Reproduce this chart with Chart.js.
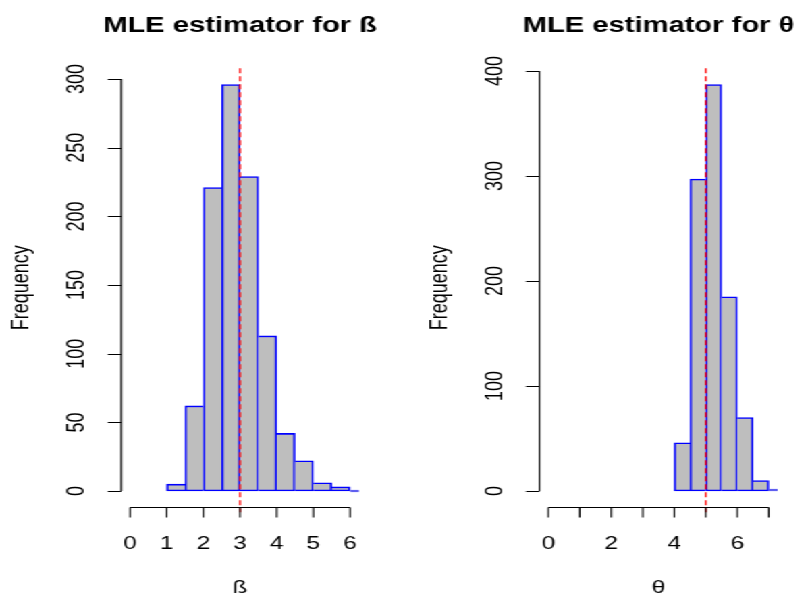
<!DOCTYPE html>
<html>
<head>
<meta charset="utf-8">
<script src="https://cdn.jsdelivr.net/npm/chart.js@4/dist/chart.umd.min.js"></script>
<style>
  html, body { margin: 0; padding: 0; background: #fff; overflow: hidden; }
  /* the reference is an R plot stretched sideways, so the charts are too */
  #wrap { position: absolute; left: 0; top: 0; width: 592px; height: 596px; transform: scaleX(1.35); transform-origin: 0 0; }
  canvas { position: absolute; top: 0; }
</style>
</head>
<body>
<div id="wrap">
  <canvas id="betaChart" width="296" height="596" style="left:0"></canvas>
  <canvas id="thetaChart" width="296" height="596" style="left:296px"></canvas>
</div>
<script>
// bins of width 0.5, given by their mid points
const betaMids   = [1.25, 1.75, 2.25, 2.75, 3.25, 3.75, 4.25, 4.75, 5.25, 5.75, 6.25];
const betaCounts = [5, 62, 221, 296, 229, 113, 42, 22, 6, 3, 0];
const thetaMids   = [4.25, 4.75, 5.25, 5.75, 6.25, 6.75, 7.25];
const thetaCounts = [46, 297, 387, 185, 70, 10, 1];

// axes
const betaXTicks  = [0, 1, 2, 3, 4, 5, 6];
const betaXLabels = [0, 1, 2, 3, 4, 5, 6];
const betaYTicks  = [0, 50, 100, 150, 200, 250, 300];
const thetaXTicks  = [0, 1, 2, 3, 4, 5, 6, 7];
const thetaXLabels = [0, 2, 4, 6];
const thetaYTicks  = [0, 100, 200, 300, 400];
const betaXlim = [0, 6], betaYlim = [0, 296];
const thetaXlim = [0, 7], thetaYlim = [0, 387];

// true values (red line)
const betaTrue = 3;
const thetaTrue = 5;

const FONT = '"Liberation Sans", Arial, sans-serif';

// R like axes: line from first to last tick, ticks pointing out
const rAxes = {
    id: 'rAxes',
    afterDraw(chart, args, o) {
        const ctx = chart.ctx, a = chart.chartArea;
        const xs = chart.scales.x, ys = chart.scales.y;
        ctx.save();

        // true value
        const vx = xs.getPixelForValue(o.vline);
        ctx.strokeStyle = '#ff0000';
        ctx.lineWidth = 1.3;
        ctx.setLineDash([5, 3]);
        ctx.beginPath(); ctx.moveTo(vx, a.top); ctx.lineTo(vx, a.bottom + 5); ctx.stroke();
        ctx.setLineDash([]);

        ctx.strokeStyle = '#000';
        ctx.fillStyle = '#000';
        ctx.lineWidth = 1.1;

        // x axis
        const y0 = Math.round(a.bottom) + 0.5;
        const xt = o.xTicks;
        ctx.beginPath();
        ctx.moveTo(xs.getPixelForValue(xt[0]), y0);
        ctx.lineTo(xs.getPixelForValue(xt[xt.length - 1]), y0);
        xt.forEach(v => {
            const px = xs.getPixelForValue(v);
            ctx.moveTo(px, y0); ctx.lineTo(px, y0 + 10);
        });
        ctx.stroke();
        ctx.font = '18px ' + FONT;
        ctx.textAlign = 'center';
        ctx.textBaseline = 'alphabetic';
        o.xLabels.forEach(v => ctx.fillText(String(v), xs.getPixelForValue(v), y0 + 41.5));
        ctx.fillText(o.xTitle, (a.left + a.right) / 2, 593);

        // y axis
        const x0 = a.left;
        const yt = o.yTicks;
        ctx.beginPath();
        ctx.moveTo(x0, ys.getPixelForValue(yt[0]));
        ctx.lineTo(x0, ys.getPixelForValue(yt[yt.length - 1]));
        yt.forEach(v => {
            const py = Math.round(ys.getPixelForValue(v)) + 0.5;
            ctx.moveTo(x0, py); ctx.lineTo(x0 - 10, py);
        });
        ctx.stroke();
        ctx.textBaseline = 'middle';
        yt.forEach(v => {
            ctx.save();
            ctx.translate(x0 - 32.5, ys.getPixelForValue(v));
            ctx.rotate(-Math.PI / 2);
            ctx.fillText(String(v), 0, 0);
            ctx.restore();
        });
        ctx.save();
        ctx.translate(x0 - 74, (a.top + a.bottom) / 2);
        ctx.rotate(-Math.PI / 2);
        ctx.fillText('Frequency', 0, 0);
        ctx.restore();

        // title
        ctx.font = 'bold 21.6px ' + FONT;
        ctx.textBaseline = 'alphabetic';
        ctx.fillText(o.title, (a.left + a.right) / 2, 31.5);

        ctx.restore();
    }
};

// R pads the range by 4% on each side
function pad4(lim) {
    const d = (lim[1] - lim[0]) * 0.04;
    return [lim[0] - d, lim[1] + d];
}

function makeHist(id, mids, counts, xlim, ylim, padding, axes) {
    const xr = pad4(xlim), yr = pad4(ylim);
    return new Chart(document.getElementById(id), {
        type: 'bar',
        data: {
            datasets: [{
                data: mids.map((m, i) => ({ x: m, y: counts[i] })),
                backgroundColor: '#bebebe',
                borderColor: '#0000ff',
                borderWidth: 1.6,
                // shared edges drawn once, by the taller bar
                borderSkipped: c => {
                    const i = c.dataIndex;
                    const cur = counts[i];
                    const next = i + 1 < counts.length ? counts[i + 1] : -1;
                    const prev = i > 0 ? counts[i - 1] : -1;
                    if (next > cur) return 'right';
                    if (prev >= cur) return 'left';
                    return false;
                },
                barPercentage: 1,
                categoryPercentage: 1,
                minBarLength: 2,
                clip: 0
            }]
        },
        options: {
            responsive: false,
            animation: false,
            devicePixelRatio: 1,
            layout: { padding: padding },
            plugins: {
                legend: { display: false },
                tooltip: { enabled: false },
                rAxes: axes
            },
            scales: {
                x: { type: 'linear', min: xr[0], max: xr[1], offset: false, display: false },
                y: { type: 'linear', min: yr[0], max: yr[1], display: false }
            }
        },
        plugins: [rAxes]
    });
}

makeHist('betaChart', betaMids, betaCounts, betaXlim, betaYlim,
    { left: 89.8, right: 30.2, top: 68.3, bottom: 88.7 },
    { xTicks: betaXTicks, xLabels: betaXLabels, yTicks: betaYTicks,
      vline: betaTrue, title: 'MLE estimator for ß', xTitle: 'ß' });

makeHist('thetaChart', thetaMids, thetaCounts, thetaXlim, thetaYlim,
    { left: 103.6, right: 16, top: 68.3, bottom: 88.7 },
    { xTicks: thetaXTicks, xLabels: thetaXLabels, yTicks: thetaYTicks,
      vline: thetaTrue, title: 'MLE estimator for θ', xTitle: 'θ' });
</script>
</body>
</html>
